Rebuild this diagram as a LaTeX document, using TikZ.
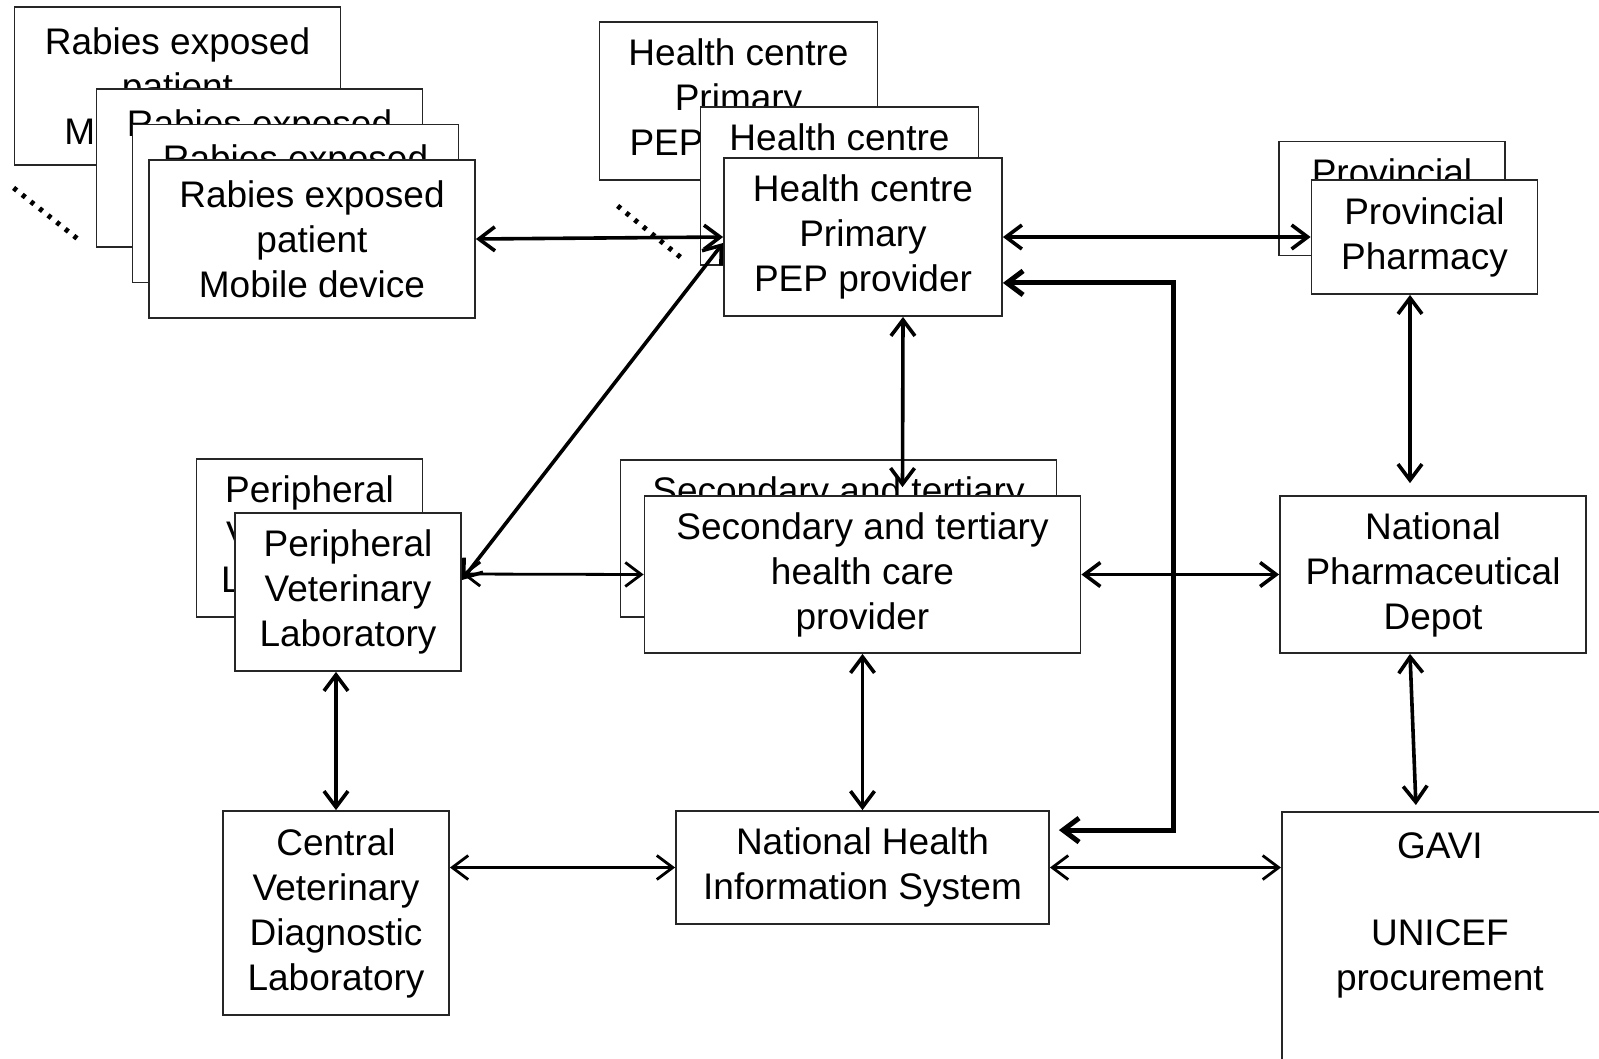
\documentclass[tikz,border=0pt]{standalone}
\usepackage{fontspec}
\setmainfont{Liberation Sans}
\usetikzlibrary{arrows.meta}

\tikzset{
  box/.style={draw=black!85, line width=1.8pt, fill=white, inner sep=0pt,
    align=center, font=\fontsize{37}{45}\selectfont},
  patbox/.style={box, minimum width=326pt, minimum height=158pt},
  hcbox/.style={box, minimum width=278pt, minimum height=158pt},
  link/.style={line width=3.6pt,
    {Straight Barb[length=16pt,width=24pt]}-{Straight Barb[length=16pt,width=24pt]}},
  thin link/.style={link, line width=2.8pt},
  more/.style={line width=5pt, dash pattern=on 4pt off 7pt}
}

\begin{document}
\begin{tikzpicture}[x=1pt, y=-1pt]
  \useasboundingbox (0,0) rectangle (1599,1058);

  % patient stack
  \node[patbox] (rabA) at (177.5,86) {Rabies exposed\\patient\\Mobile device};
  \node[patbox] (rabB) at (259.5,168) {Rabies exposed\\patient\\Mobile device};
  \node[patbox] (rabC) at (295.5,203.5) {Rabies exposed\\patient\\Mobile device};
  \node[patbox] (rab) at (312,239) {Rabies exposed\\patient\\Mobile device};
  \draw[more] ([yshift=-22pt]rabA.south west) -- ++(64,51);

  % health centre stack
  \node[hcbox] (hcA) at (738.5,101) {Health centre\\Primary\\PEP provider};
  \node[hcbox] (hcB) at (839.5,186) {Health centre\\Primary\\PEP provider};
  \node[hcbox] (hc) at (863,237) {Health centre\\Primary\\PEP provider};
  \draw[more] ([xshift=19pt,yshift=-25pt]hcA.south west) -- ++(65,53);

  % pharmacies
  \node[box, minimum width=226pt, minimum height=114pt] (provA) at (1392,198.5) {Provincial\\Pharmacy};
  \node[box, minimum width=226pt, minimum height=114pt] (prov) at (1424.5,237) {Provincial\\Pharmacy};
  \node[box, minimum width=306pt, minimum height=157pt] (npd) at (1433,574.5) {National\\Pharmaceutical\\Depot};

  % laboratories
  \node[box, minimum width=226pt, minimum height=158pt] (perA) at (309.5,538) {Peripheral\\Veterinary\\Laboratory};
  \node[box, minimum width=226pt, minimum height=158pt] (per) at (348,592) {Peripheral\\Veterinary\\Laboratory};
  \node[box, minimum width=226pt, minimum height=204pt] (cvdl) at (336,913) {Central\\Veterinary\\Diagnostic\\Laboratory};

  % secondary care
  \node[box, minimum width=436pt, minimum height=157pt] (secA) at (838.5,538.5) {Secondary and tertiary\\health care\\provider};
  \node[box, minimum width=436pt, minimum height=157pt] (sec) at (862.5,574.5) {Secondary and tertiary\\health care\\provider};

  \node[box, minimum width=373pt, minimum height=113pt] (nhis) at (862.5,867.5) {National Health\\Information System};

  % procurement
  \node[box, anchor=north west, minimum width=330pt, minimum height=300pt] (gavi) at (1281,811) {};
  \node[anchor=north, inner sep=0pt, align=center, font=\fontsize{37}{45}\selectfont]
    (gavit) at ([xshift=-7pt,yshift=-21pt]gavi.north) {GAVI\\[42pt]UNICEF\\procurement};

  \path[link]
    (rab.east) edge (hc.west)
    (hc.east) edge (prov.west)
    ([xshift=40pt]hc.south) edge ([xshift=40pt,yshift=8pt]sec.north)
    ([yshift=-6pt]hc.west) edge ([yshift=12pt]per.east)
    (sec.east) edge (npd.west)
    ([xshift=-14.5pt]prov.south) edge ([xshift=-23pt,yshift=12pt]npd.north)
    ([xshift=-23pt]npd.south) edge ([xshift=-31pt,yshift=6pt]gavi.north)
    (per.south -| cvdl.north) edge (cvdl.north)
    (sec.south) edge (nhis.north);
  \path[thin link]
    ([yshift=18pt]per.east) edge (sec.west)
    (nhis.west -| cvdl.east) edge (nhis.west)
    (nhis.east) edge (nhis.east -| gavi.west);
  \draw[link, line width=5pt] ([yshift=34pt]hc.south east) -- ++(171,0)
    |- ([xshift=9pt,yshift=-20pt]nhis.north east);
\end{tikzpicture}
\end{document}
